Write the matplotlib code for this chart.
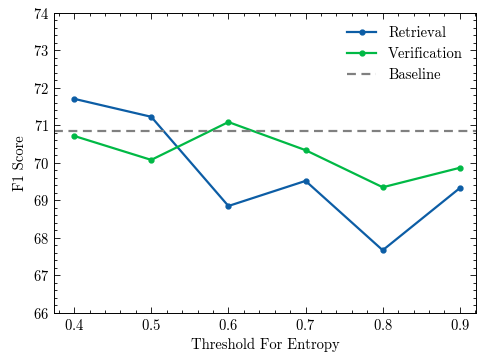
import numpy as np
import matplotlib
matplotlib.use('Agg')
from matplotlib import pyplot as plt
from matplotlib.ticker import MultipleLocator

# data
thresholds = [0.4, 0.5, 0.6, 0.7, 0.8, 0.9]
retrieval = [71.71, 71.23, 68.85, 69.52, 67.67, 69.33]
verification = [70.72, 70.08, 71.09, 70.34, 69.35, 69.87]
baseline = 70.84

plt.rcParams['font.family'] = 'cmr10'
plt.rcParams['axes.formatter.use_mathtext'] = True
plt.rcParams['font.size'] = 10.5

fig, ax = plt.subplots(figsize=(4.78, 3.6), dpi=100)
ax.plot(thresholds, retrieval, '-o', color='#0C5DA5', ms=3.5, lw=1.6,
        label='Retrieval')
ax.plot(thresholds, verification, '-o', color='#00B945', ms=3.5, lw=1.6,
        label='Verification')
ax.axhline(baseline, color='#808080', ls='--', lw=1.6, dashes=(4, 2.5),
           label='Baseline')

ax.set_xlim(0.374, 0.921)
ax.set_ylim(66, 74)
ax.xaxis.set_major_locator(MultipleLocator(0.1))
ax.xaxis.set_minor_locator(MultipleLocator(0.02))
ax.yaxis.set_major_locator(MultipleLocator(1))
ax.yaxis.set_minor_locator(MultipleLocator(0.2))
ax.tick_params(which='both', direction='in', top=True, right=True)
ax.tick_params(which='major', length=4, width=0.6)
ax.tick_params(which='minor', length=2, width=0.6)
for s in ax.spines.values():
    s.set_linewidth(0.7)

ax.set_xlabel('Threshold For Entropy')
ax.set_ylabel('F1 Score')
ax.legend(loc='upper right', frameon=False)

fig.subplots_adjust(left=0.113, right=0.996, top=0.964, bottom=0.131)
fig.savefig('out.png')
